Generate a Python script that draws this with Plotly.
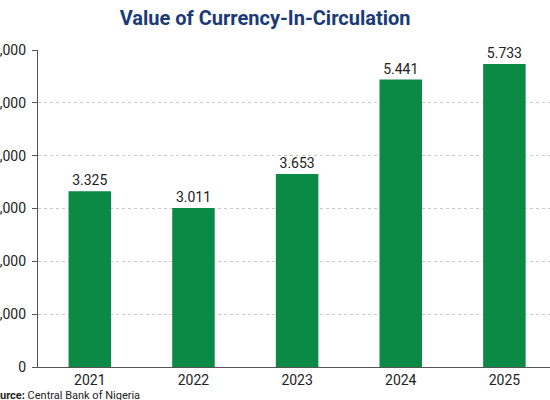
import plotly.graph_objects as go

years = ["2021", "2022", "2023", "2024", "2025"]
values = [3325, 3011, 3653, 5441, 5733]
value_labels = ["3.325", "3.011", "3.653", "5.441", "5.733"]
y_ticks = [0, 1000, 2000, 3000, 4000, 5000, 6000]
y_tick_labels = ["0", "1,000", "2,000", "3,000", "4,000", "5,000", "6,000"]

fig = go.Figure()

fig.add_trace(go.Bar(
    x=list(range(len(years))),
    y=values,
    text=value_labels,
    textposition="outside",
    textfont=dict(size=14, color="#222222", family="Roboto"),
    marker=dict(color="#0a8a45", line=dict(width=0)),
    cliponaxis=False,
    hoverinfo="skip",
))

fig.update_layout(
    width=550,
    height=400,
    margin=dict(l=38, r=0, t=50, b=33),
    paper_bgcolor="white",
    plot_bgcolor="white",
    bargap=0.59,
    showlegend=False,
    font=dict(family="Roboto", color="#222222"),
    title=dict(
        text="<b>Value of Currency-In-Circulation</b>",
        x=0.482, xanchor="center",
        y=0.955, yanchor="middle",
        font=dict(size=20, color="#1b3a78", family="Roboto"),
    ),
)

fig.update_xaxes(
    tickvals=list(range(len(years))),
    ticktext=years,
    range=[-0.5, 4.44],
    showgrid=False,
    showline=True,
    linecolor="#555555",
    linewidth=1.2,
    ticks="",
    tickfont=dict(size=14, color="#222222"),
    fixedrange=True,
)

fig.update_yaxes(
    range=[0, 6000],
    tickvals=y_ticks,
    ticktext=y_tick_labels,
    showgrid=True,
    gridcolor="#c8c8c8",
    griddash="dot",
    gridwidth=1,
    showline=True,
    linecolor="#555555",
    linewidth=1.2,
    ticks="outside",
    ticklen=5,
    tickcolor="#555555",
    ticklabelstandoff=3,
    tickfont=dict(size=14, color="#222222"),
    zeroline=False,
    automargin=False,
    fixedrange=True,
)

fig.add_annotation(
    xref="paper", yref="paper",
    x=-0.104, y=-0.09,
    xanchor="left", yanchor="middle",
    text="<b>Source:</b> Central Bank of Nigeria",
    showarrow=False,
    font=dict(size=11, color="#222222"),
)

# drop the page's default body margin so the figure sits at the window corner
fig.write_html("out.html", config={"displayModeBar": False},
               post_script="document.body.style.margin='0';")
